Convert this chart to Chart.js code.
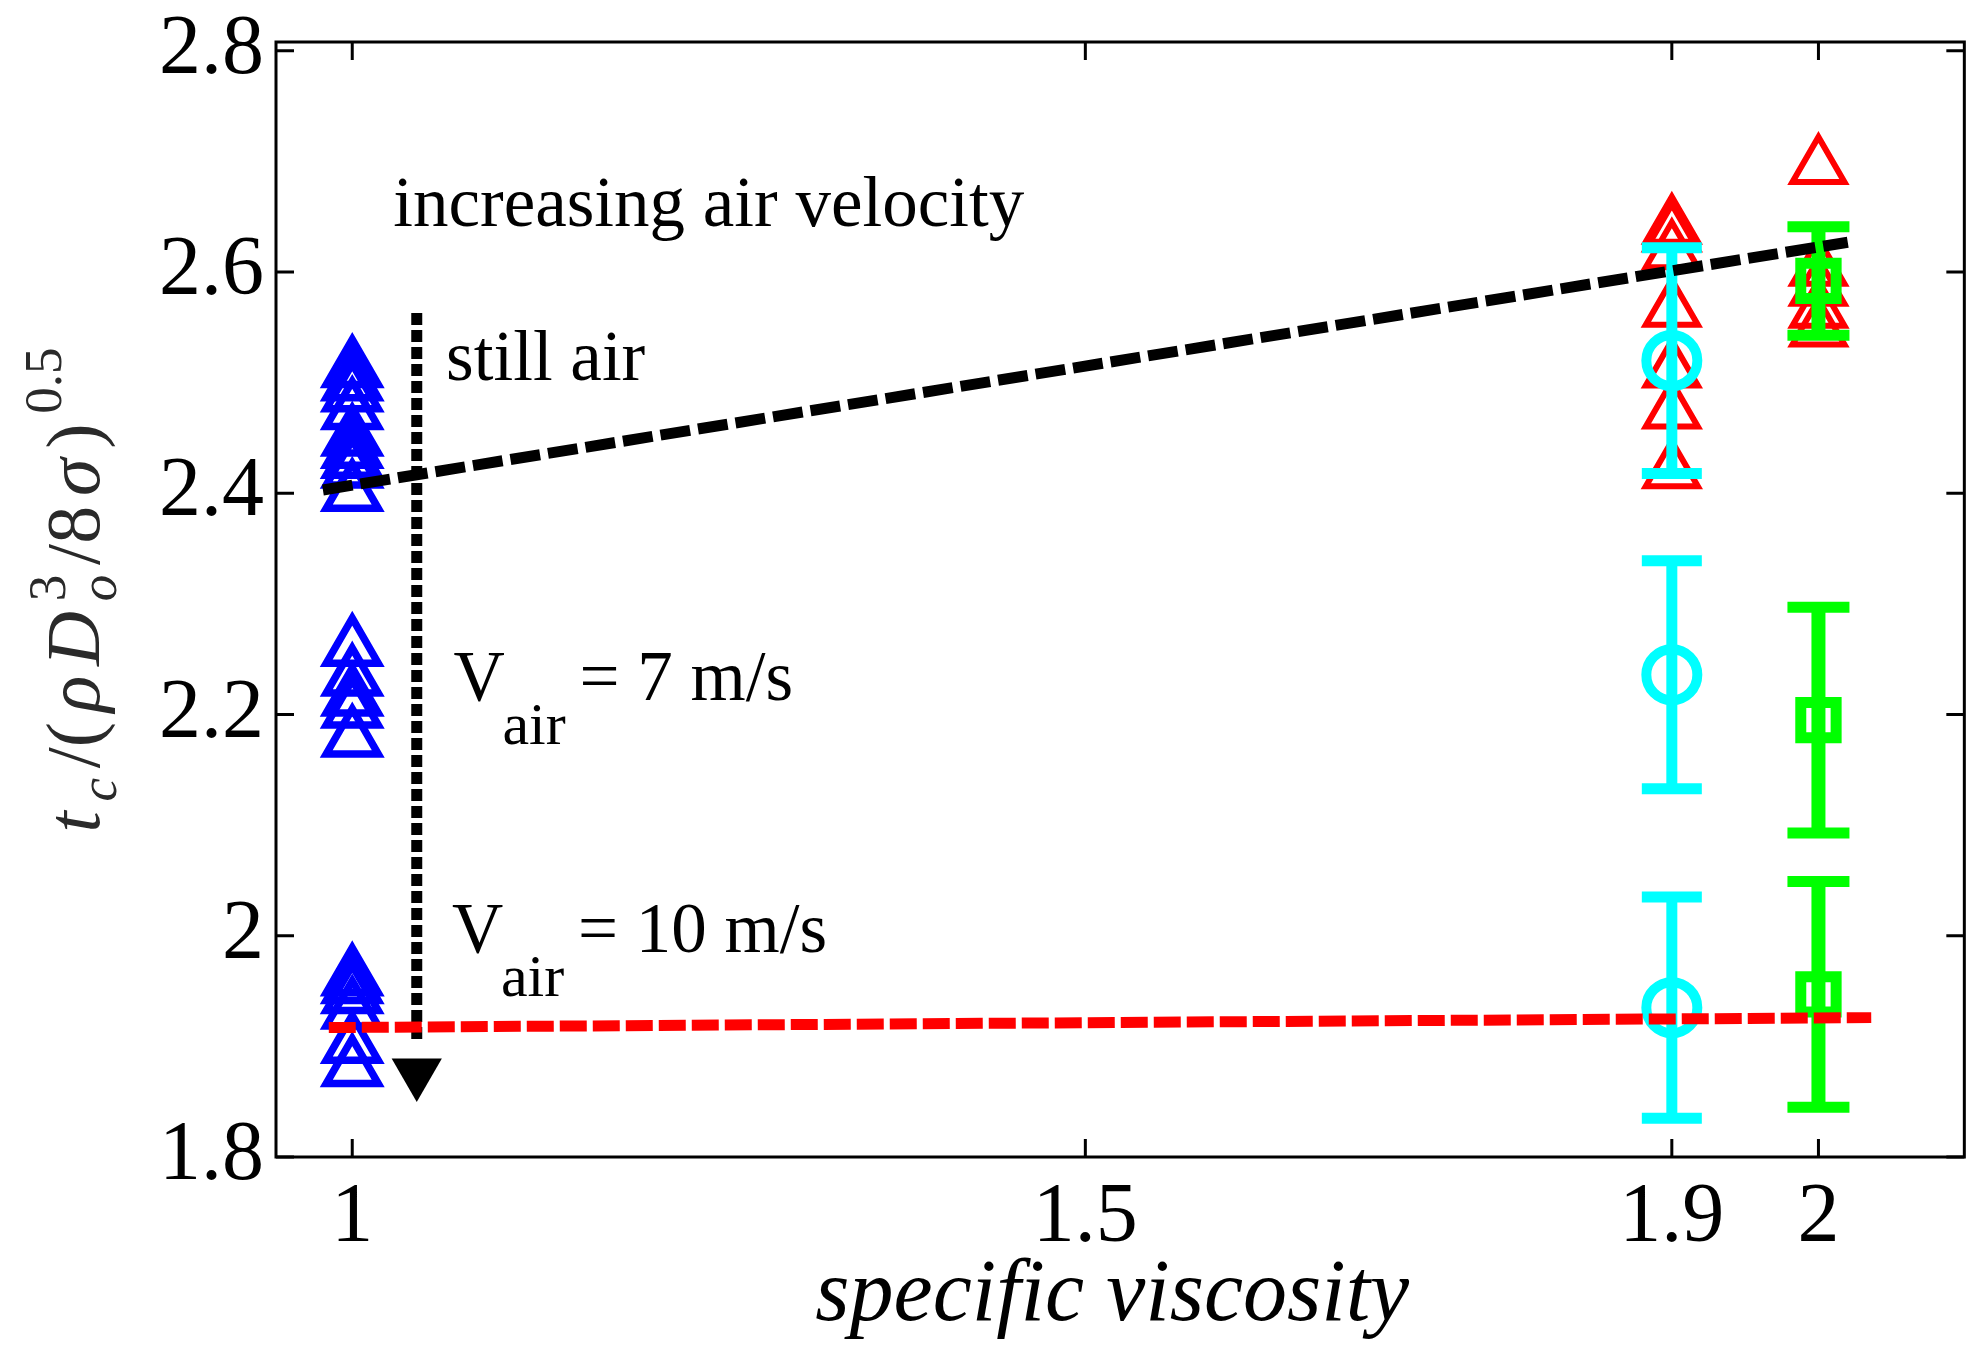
<!DOCTYPE html>
<html>
<head>
<meta charset="utf-8">
<script src="https://cdn.jsdelivr.net/npm/chart.js@4.4.1/dist/chart.umd.min.js"></script>
<style>
  html, body { margin: 0; padding: 0; background: #fff; overflow: hidden; }
  #wrap { width: 1986px; height: 1364px; }
  canvas { display: block; }
</style>
</head>
<body>
<div id="wrap"><canvas id="myChart"></canvas></div>
<script>
// axis ticks
let xTicks = [1, 1.5, 1.9, 2];
let yTicks = [1.8, 2, 2.2, 2.4, 2.6, 2.8];
// visible box edge on the right (x value)
let xBoxEdge = 2.0995;

// single runs (triangles)
let waterX = 1;
let waterY = [2.512, 2.5, 2.49, 2.474, 2.45, 2.439, 2.43, 2.421, 2.4,
  2.26, 2.233, 2.215, 2.204, 2.178,
  1.962, 1.955, 1.946, 1.932, 1.901, 1.88];
let solX = [1.9, 2];
let sol19Y = [2.641, 2.634, 2.618, 2.566, 2.511, 2.474, 2.42];
let sol20Y = [2.695, 2.603, 2.585, 2.565, 2.548];

// averages with error bars (still air, 7 m/s, 10 m/s)
let cyanMean = [2.52, 2.236, 1.935];
let cyanErr = [0.102, 0.103, 0.1];
let greenMean = [2.592, 2.195, 1.947];
let greenErr = [0.049, 0.102, 0.102];

// guide lines
let stillX = [0.98, 2.02];
let stillY = [2.403, 2.627];
let fastX = [0.984, 2.036];
let fastY = [1.917, 1.926];
let arrowX = [1.044, 1.044];
let arrowY = [2.563, 1.905];
let arrowTipY = [1.876];

let serif = '"Liberation Serif", "Times New Roman", serif';

function pts(xs, ys) {
  return ys.map((y, i) => ({ x: Array.isArray(xs) ? xs[i] : xs, y: y }));
}

function markers(data, style, r, w, color, order) {
  return {
    data: data,
    pointStyle: style,
    pointRadius: r,
    pointBorderWidth: w,
    pointBorderColor: color,
    pointBackgroundColor: "rgba(0,0,0,0)",
    showLine: false,
    order: order,
  };
}

function guide(data, color, dash, order) {
  return {
    data: data,
    showLine: true,
    borderColor: color,
    borderWidth: 11,
    borderDash: dash,
    borderCapStyle: "butt",
    pointRadius: 0,
    order: order,
  };
}

// error bars drawn just before their marker dataset
let errorBars = {
  id: "errorBars",
  beforeDatasetDraw(chart, args) {
    let sets = {
      3: { x: solX[0], m: cyanMean, e: cyanErr, c: "#00ffff", cap: 60, stem: 11 },
      4: { x: solX[1], m: greenMean, e: greenErr, c: "#00ff00", cap: 62, stem: 14 },
    };
    let s = sets[args.index];
    if (!s) return;
    let ctx = chart.ctx;
    let xs = chart.scales.x, ys = chart.scales.y;
    let px = xs.getPixelForValue(s.x);
    ctx.save();
    ctx.strokeStyle = s.c;
    ctx.lineCap = "butt";
    s.m.forEach((m, i) => {
      let top = ys.getPixelForValue(m + s.e[i]);
      let bot = ys.getPixelForValue(m - s.e[i]);
      ctx.lineWidth = s.stem;
      ctx.beginPath();
      ctx.moveTo(px, top);
      ctx.lineTo(px, bot);
      ctx.stroke();
      ctx.lineWidth = 11;
      ctx.beginPath();
      ctx.moveTo(px - s.cap / 2, top);
      ctx.lineTo(px + s.cap / 2, top);
      ctx.moveTo(px - s.cap / 2, bot);
      ctx.lineTo(px + s.cap / 2, bot);
      ctx.stroke();
    });
    ctx.restore();
  },
};

// box, inward ticks, y title and notes
let yTitle = [
  { t: "t", it: true },
  { t: "c", it: true, s: 0.7, dy: 0.22 },
  { t: "/(" },
  { t: "ρ", it: true },
  { t: "D", it: true },
  { stack: [{ t: "o", it: true, s: 0.7, dy: 0.22 }, { t: "3", s: 0.7, dy: -0.45 }] },
  { t: "/8" },
  { t: "σ", it: true },
  { t: ")" },
  { t: "0.5", s: 0.7, dy: -0.5 },
];

let notes = [
  { text: "increasing air velocity", x: 1.028, y: 2.642 },
  { text: "still air", x: 1.064, y: 2.502 },
];
let windNotes = [
  { x: 1.069, y: 2.213, rest: "= 7 m/s" },
  { x: 1.068, y: 1.985, rest: "= 10 m/s" },
];

function partFont(p, size) {
  return (p.it ? "italic " : "") + Math.round(size * (p.s || 1)) + "px " + serif;
}

let decorations = {
  id: "decorations",
  afterDraw(chart) {
    let ctx = chart.ctx;
    let a = chart.chartArea;
    let xs = chart.scales.x, ys = chart.scales.y;
    let right = xs.getPixelForValue(xBoxEdge);
    ctx.save();
    ctx.strokeStyle = "#000";
    ctx.lineWidth = 3;
    ctx.strokeRect(a.left, a.top, right - a.left, a.bottom - a.top);
    ctx.beginPath();
    xTicks.forEach((v) => {
      let px = xs.getPixelForValue(v);
      ctx.moveTo(px, a.bottom); ctx.lineTo(px, a.bottom - 18);
      ctx.moveTo(px, a.top); ctx.lineTo(px, a.top + 18);
    });
    yTicks.forEach((v) => {
      let py = ys.getPixelForValue(v);
      ctx.moveTo(a.left, py); ctx.lineTo(a.left + 18, py);
      ctx.moveTo(right, py); ctx.lineTo(right - 18, py);
    });
    ctx.stroke();

    // notes
    ctx.fillStyle = "#000";
    ctx.textBaseline = "alphabetic";
    ctx.textAlign = "left";
    ctx.font = "71px " + serif;
    notes.forEach((n) => {
      ctx.fillText(n.text, xs.getPixelForValue(n.x), ys.getPixelForValue(n.y));
    });
    windNotes.forEach((n) => {
      let px = xs.getPixelForValue(n.x), py = ys.getPixelForValue(n.y);
      ctx.font = "71px " + serif;
      ctx.fillText("V", px, py);
      ctx.fillText(n.rest, px + 126, py);
      ctx.font = "60px " + serif;
      ctx.fillText("air", px + 49, py + 44);
    });

    // rotated y title, stretched to the reference length
    let size = 76, span = 485;
    let widths = yTitle.map((p) => {
      if (p.stack) {
        return Math.max.apply(null, p.stack.map((q) => { ctx.font = partFont(q, size); return ctx.measureText(q.t).width; }));
      }
      ctx.font = partFont(p, size);
      return ctx.measureText(p.t).width;
    });
    let natural = widths.reduce((s, w) => s + w, 0);
    let gap = Math.max(0, (span - natural) / (widths.length - 1));
    let total = natural + gap * (widths.length - 1);
    ctx.fillStyle = "#2a2a2a";
    ctx.translate(99, 590);
    ctx.rotate(-Math.PI / 2);
    let cx = -total / 2;
    yTitle.forEach((p, i) => {
      let list = p.stack || [p];
      list.forEach((q) => {
        ctx.font = partFont(q, size);
        ctx.fillText(q.t, cx, (q.dy || 0) * size);
      });
      cx += widths[i] + gap;
    });
    ctx.restore();
  },
};

function plainTick(v) {
  return String(Math.round(v * 100) / 100);
}

let config = {
  type: "scatter",
  data: {
    datasets: [
      markers(pts(waterX, waterY), "triangle", 30, 7.5, "#0000ff", 8),
      markers(pts(solX[0], sol19Y), "triangle", 30, 6, "#ff0000", 7),
      markers(pts(solX[1], sol20Y), "triangle", 30, 6, "#ff0000", 7),
      markers(pts(solX[0], cyanMean), "circle", 25.5, 10, "#00ffff", 6),
      markers(pts(solX[1], greenMean), "rect", 25, 11, "#00ff00", 5),
      guide(pts(stillX, stillY), "#000000", [30, 8], 4),
      guide(pts(arrowX, arrowY), "#000000", [12, 5], 3),
      {
        data: pts(arrowX[0], arrowTipY),
        pointStyle: "triangle",
        pointRotation: 180,
        pointRadius: 29,
        pointBorderWidth: 0,
        pointBackgroundColor: "#000000",
        showLine: false,
        order: 2,
      },
      guide(pts(fastX, fastY), "#ff0000", [27, 6], 1),
    ],
  },
  options: {
    responsive: true,
    maintainAspectRatio: false,
    devicePixelRatio: 1,
    animation: false,
    events: [],
    layout: { padding: { top: 42, right: 2, left: 0, bottom: 0 } },
    plugins: { legend: { display: false }, tooltip: { enabled: false } },
    scales: {
      x: {
        type: "linear",
        min: 0.948,
        max: 2.0887,
        afterFit(scale) {
          scale.height = 207;
          scale.paddingLeft = 0;
          scale.paddingRight = 0;
        },
        afterBuildTicks(scale) { scale.ticks = xTicks.map((v) => ({ value: v })); },
        grid: { display: false, drawTicks: false },
        border: { display: false },
        ticks: {
          autoSkip: false,
          maxRotation: 0,
          padding: 12,
          color: "#000",
          font: { family: serif, size: 84 },
          callback: plainTick,
        },
        title: {
          display: true,
          text: "specific viscosity",
          color: "#000",
          font: { family: serif, size: 88, style: "italic" },
          padding: { top: 0, bottom: 14 },
        },
      },
      y: {
        type: "linear",
        min: 1.8,
        max: 2.808,
        afterFit(scale) {
          scale.width = 276;
          scale.paddingTop = 0;
          scale.paddingBottom = 0;
        },
        afterBuildTicks(scale) { scale.ticks = yTicks.map((v) => ({ value: v })); },
        grid: { display: false, drawTicks: false },
        border: { display: false },
        ticks: {
          autoSkip: false,
          padding: 12,
          color: "#000",
          font: { family: serif, size: 84 },
          callback: plainTick,
        },
      },
    },
  },
  plugins: [errorBars, decorations],
};

let myChart = new Chart(document.getElementById("myChart").getContext("2d"), config);
</script>
</body>
</html>
